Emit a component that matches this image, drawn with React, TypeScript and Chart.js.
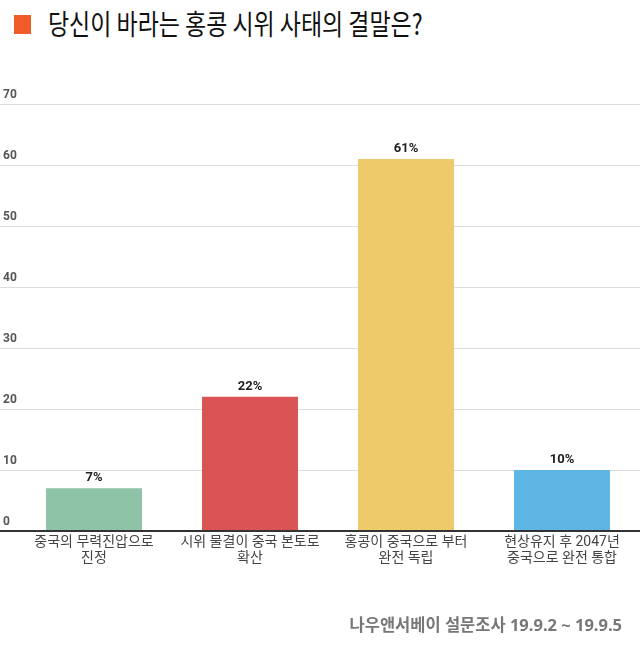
import React, { useEffect, useRef } from "react";
import { Chart, registerables } from "chart.js";

Chart.register(...registerables);

const categories: string[][] = [
  ["중국의 무력진압으로", "진정"],
  ["시위 물결이 중국 본토로", "확산"],
  ["홍콩이 중국으로 부터", "완전 독립"],
  ["현상유지 후 2047년", "중국으로 완전 통합"],
];
const values: number[] = [7, 22, 61, 10];
const barColors: string[] = ["#8FC3A8", "#DA5355", "#EECA6B", "#5DB5E3"];
const yMin = 0;
const yMax = 70;
const yStep = 10;
const title = "당신이 바라는 홍콩 시위 사태의 결말은?";
const footer = "나우앤서베이 설문조사 19.9.2 ~ 19.9.5";

const valueLabelPlugin = {
  id: "valueLabels",
  afterDatasetsDraw(chart: any) {
    const ctx = chart.ctx;
    const meta = chart.getDatasetMeta(0);
    ctx.save();
    ctx.font = "bold 13px Roboto, 'Noto Sans CJK KR', sans-serif";
    ctx.fillStyle = "#222";
    ctx.textAlign = "center";
    ctx.textBaseline = "bottom";
    meta.data.forEach((bar: any, i: number) => {
      ctx.fillText(values[i] + "%", bar.x, bar.y - 4);
    });
    ctx.restore();
  },
};

export default function App() {
  const canvasRef = useRef<HTMLCanvasElement | null>(null);

  useEffect(() => {
    document.body.style.margin = "0";
    const canvas = canvasRef.current;
    if (!canvas) return;
    const chart = new Chart(canvas, {
      type: "bar",
      data: {
        labels: categories,
        datasets: [
          {
            data: values,
            backgroundColor: barColors,
            borderWidth: 0,
            categoryPercentage: 1,
            barPercentage: 0.615,
          },
        ],
      },
      options: {
        animation: false,
        responsive: true,
        maintainAspectRatio: false,
        layout: { padding: { top: 104, left: 0, right: 0, bottom: 56 } },
        plugins: {
          legend: { display: false },
          tooltip: { enabled: false },
          title: { display: false },
        },
        scales: {
          x: {
            grid: { display: false, drawTicks: false },
            border: { display: false },
            ticks: {
              color: "#444",
              padding: 4,
              font: { family: "Roboto, 'Noto Sans CJK KR', sans-serif", size: 14, lineHeight: 1.1 },
              maxRotation: 0,
              autoSkip: false,
            },
            afterFit: (s: any) => {
              s.height = 60;
            },
          },
          y: {
            min: yMin,
            max: yMax,
            border: { display: false },
            grid: {
              drawTicks: true,
              tickLength: 16,
              color: (c: any) => (c.tick && c.tick.value === 0 ? "#333" : "#DDDDDD"),
              lineWidth: (c: any) => (c.tick && c.tick.value === 0 ? 2 : 1),
            },
            ticks: {
              stepSize: yStep,
              mirror: true,
              padding: -13,
              labelOffset: -9,
              color: "#555",
              font: { family: "Roboto, 'Noto Sans', sans-serif", size: 12, weight: "bold" },
            },
            afterFit: (s: any) => {
              s.width = 16;
            },
          },
        },
      },
      plugins: [valueLabelPlugin],
    });
    return () => chart.destroy();
  }, []);

  return (
    <div style={{ position: "relative", width: 640, height: 647, background: "#fff", overflow: "hidden" }}>
      <div
        style={{
          position: "absolute",
          left: 14,
          top: 15,
          width: 17,
          height: 19,
          background: "#F15A29",
        }}
      />
      <div
        style={{
          position: "absolute",
          left: 48,
          top: 7,
          fontFamily: "'Noto Sans CJK KR', sans-serif",
          fontSize: 28,
          lineHeight: "32px",
          color: "#111",
          whiteSpace: "nowrap",
          transform: "scaleX(0.82)",
          transformOrigin: "left top",
        }}
      >
        {title}
      </div>
      <div style={{ position: "absolute", left: 0, top: 0, width: 640, height: 647 }}>
        <canvas ref={canvasRef} />
      </div>
      <div
        style={{
          position: "absolute",
          right: 18,
          top: 615,
          fontFamily: "'Noto Sans', 'Noto Sans CJK KR', sans-serif",
          fontWeight: "bold",
          fontSize: 16.5,
          lineHeight: "20px",
          color: "#777",
          whiteSpace: "nowrap",
        }}
      >
        {footer}
      </div>
    </div>
  );
}
